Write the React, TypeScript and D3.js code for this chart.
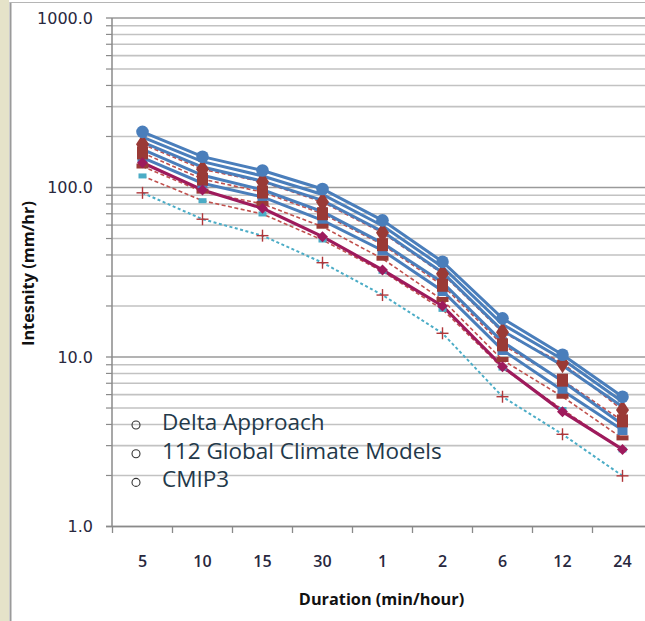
import React from "react";
import * as d3 from "d3";

const categories = ["5", "10", "15", "30", "1", "2", "6", "12", "24"];
const yMajorTicks = [1, 10, 100, 1000];
const yMinorMultipliers = [2, 3, 4, 5, 6, 7, 8, 9];

const blue1 = [213, 152, 126, 98, 64, 36.5, 16.9, 10.3, 5.83];
const blue2 = [198, 142, 117, 91, 59.5, 34, 15.6, 9.7, 5.45];
const blue3 = [185, 132, 109, 84, 55, 31.5, 14.3, 8.9, 5.09];
const blue4 = [168, 118, 97, 72, 47, 27.5, 12.3, 7.2, 4.0];
const blue5 = [150, 106, 88, 64, 42.5, 24.5, 11.0, 6.35, 3.71];
const red1 = [180, 128, 108, 82, 54, 31, 14.0, 9.2, 4.87];
const red2 = [160, 112, 94, 70, 46, 26.5, 11.8, 7.3, 4.2];
const red3 = [133, 94.5, 80, 58.7, 38, 21.7, 9.6, 5.83, 3.31];
const red4 = [117, 83.6, 69.8, 49, 32, 19.1, 8.6, 4.9, 2.83];
const magenta = [140, 96.7, 75.4, 51.3, 32.6, 20.0, 8.77, 4.76, 2.85];
const teal = [93, 65, 52, 36, 23.2, 13.8, 5.83, 3.5, 1.99];

const legendItems = ["Delta Approach", "112 Global Climate Models", "CMIP3"];

const W = 645;
const H = 621;
const BLUE = "#4a7ebb";
const RED = "#c0504d";
const DARKRED = "#9a3a36";
const MAGENTA = "#9e1a5c";
const TEAL = "#4bacc6";

export default function App() {
  const x = d3.scaleBand<string>().domain(categories).range([112.5, 652.5]);
  const y = d3.scaleLog().domain([1, 1000]).range([526.5, 18]);
  const cx = (i: number) => (x(categories[i]) as number) + x.bandwidth() / 2;
  const line = d3
    .line<number>()
    .x((_, i) => cx(i))
    .y((d) => y(d));

  const minor: number[] = [];
  [1, 10, 100].forEach((d) => yMinorMultipliers.forEach((m) => minor.push(m * d)));

  const blueLines = [blue5, blue4, blue3, blue2, blue1];
  const redLines = [red1, red2, red3, red4];

  const diamond = (px: number, py: number, w: number, h: number) =>
    `M${px},${py - h} L${px + w},${py} L${px},${py + h} L${px - w},${py} Z`;

  return (
    <svg
      width={W}
      height={H}
      style={{ position: "absolute", left: 0, top: 0, background: "#fff" }}
    >
      {/* frame */}
      <rect x={0} y={0} width={9} height={H} fill="#e5e3c9" />
      <line x1={10.5} x2={10.5} y1={2} y2={H} stroke="#9a9a9a" strokeWidth={2} />
      <line x1={10} x2={W} y1={2.5} y2={2.5} stroke="#b5b5b5" strokeWidth={1} />

      {/* gridlines */}
      {minor.map((v) => (
        <g key={"mi" + v}>
          <line x1={112} x2={W} y1={y(v)} y2={y(v)} stroke="#c2c2c2" strokeWidth={1.6} />
          <line x1={106} x2={112} y1={y(v)} y2={y(v)} stroke="#8a8a8a" strokeWidth={1.2} />
        </g>
      ))}
      {yMajorTicks.map((v) => (
        <g key={"ma" + v}>
          <line x1={106} x2={W} y1={y(v)} y2={y(v)} stroke="#9a9a9a" strokeWidth={1.6} />
          <text
            x={93}
            y={y(v)}
            dy="0.36em"
            textAnchor="end"
            fontFamily="DejaVu Sans"
            fontSize={16}
            fill="#28283e"
          >
            {d3.format(".1f")(v)}
          </text>
        </g>
      ))}

      {/* axes */}
      <line x1={112} x2={112} y1={18} y2={527} stroke="#8a8a8a" strokeWidth={1.5} />
      <line x1={106} x2={W} y1={526.5} y2={526.5} stroke="#8a8a8a" strokeWidth={1.5} />
      {categories.map((c, i) => (
        <g key={"xt" + c}>
          <line
            x1={(x(c) as number)}
            x2={(x(c) as number)}
            y1={526.5}
            y2={533}
            stroke="#8a8a8a"
            strokeWidth={1.3}
          />
          <text
            x={cx(i)}
            y={566.5}
            textAnchor="middle"
            fontFamily="Open Sans"
            fontWeight={600}
            fontSize={16}
            fill="#28283e"
          >
            {c}
          </text>
        </g>
      ))}
      <text
        x={381.5}
        y={604.5}
        textAnchor="middle"
        fontFamily="Open Sans"
        fontWeight={700}
        fontSize={16.3}
        fill="#111"
      >
        Duration (min/hour)
      </text>
      <text
        transform="translate(33.5,273.5) rotate(-90)"
        textAnchor="middle"
        fontFamily="Open Sans"
        fontWeight={700}
        fontSize={16.3}
        fill="#111"
      >
        Intesnity (mm/hr)
      </text>

      {/* series lines */}
      <path d={line(teal) || ""} fill="none" stroke={TEAL} strokeWidth={2} strokeDasharray="3,2.5" />
      {redLines.map((s, k) => (
        <path
          key={"rl" + k}
          d={line(s) || ""}
          fill="none"
          stroke={RED}
          strokeWidth={1.6}
          strokeDasharray="4,2.5"
        />
      ))}
      {blueLines.map((s, k) => (
        <path key={"bl" + k} d={line(s) || ""} fill="none" stroke={BLUE} strokeWidth={3} />
      ))}
      <path d={line(magenta) || ""} fill="none" stroke={MAGENTA} strokeWidth={3.2} />

      {/* markers */}
      {blue5.map((v, i) => (
        <rect key={"b5" + i} x={cx(i) - 5} y={y(v) - 5} width={10} height={10} fill={BLUE} />
      ))}
      {blue4.map((v, i) => (
        <rect key={"b4" + i} x={cx(i) - 4.5} y={y(v) - 4.5} width={9} height={9} fill={BLUE} />
      ))}
      {red3.map((v, i) => (
        <rect key={"r3" + i} x={cx(i) - 6} y={y(v) - 3} width={12} height={5} fill={DARKRED} />
      ))}
      {red2.map((v, i) => (
        <rect key={"r2" + i} x={cx(i) - 5.5} y={y(v) - 6.5} width={11} height={13} fill={DARKRED} />
      ))}
      {red1.map((v, i) => (
        <path key={"r1" + i} d={diamond(cx(i), y(v), 6.5, 10)} fill={DARKRED} />
      ))}
      {red4.map((v, i) => (
        <rect key={"r4" + i} x={cx(i) - 4} y={y(v) - 2.5} width={8} height={5} fill={TEAL} />
      ))}
      {magenta.map((v, i) => (
        <path key={"mg" + i} d={diamond(cx(i), y(v), 5.5, 5.5)} fill={MAGENTA} />
      ))}
      {blue1.map((v, i) => (
        <circle key={"b1" + i} cx={cx(i)} cy={y(v)} r={6.3} fill={BLUE} />
      ))}
      {teal.map((v, i) => (
        <g key={"tp" + i} stroke="#b0363a" strokeWidth={1.4}>
          <line x1={cx(i) - 6} x2={cx(i) + 6} y1={y(v)} y2={y(v)} />
          <line x1={cx(i)} x2={cx(i)} y1={y(v) - 6} y2={y(v) + 6} />
        </g>
      ))}

      {/* legend */}
      {legendItems.map((t, i) => (
        <g key={"lg" + t}>
          <circle cx={136} cy={425 + i * 28.7} r={4} fill="none" stroke="#333" strokeWidth={1.1} />
          <text
            x={162}
            y={430 + i * 28.7}
            fontFamily="Open Sans"
            fontSize={22.5}
            fill="#23394a"
          >
            {t}
          </text>
        </g>
      ))}
    </svg>
  );
}
